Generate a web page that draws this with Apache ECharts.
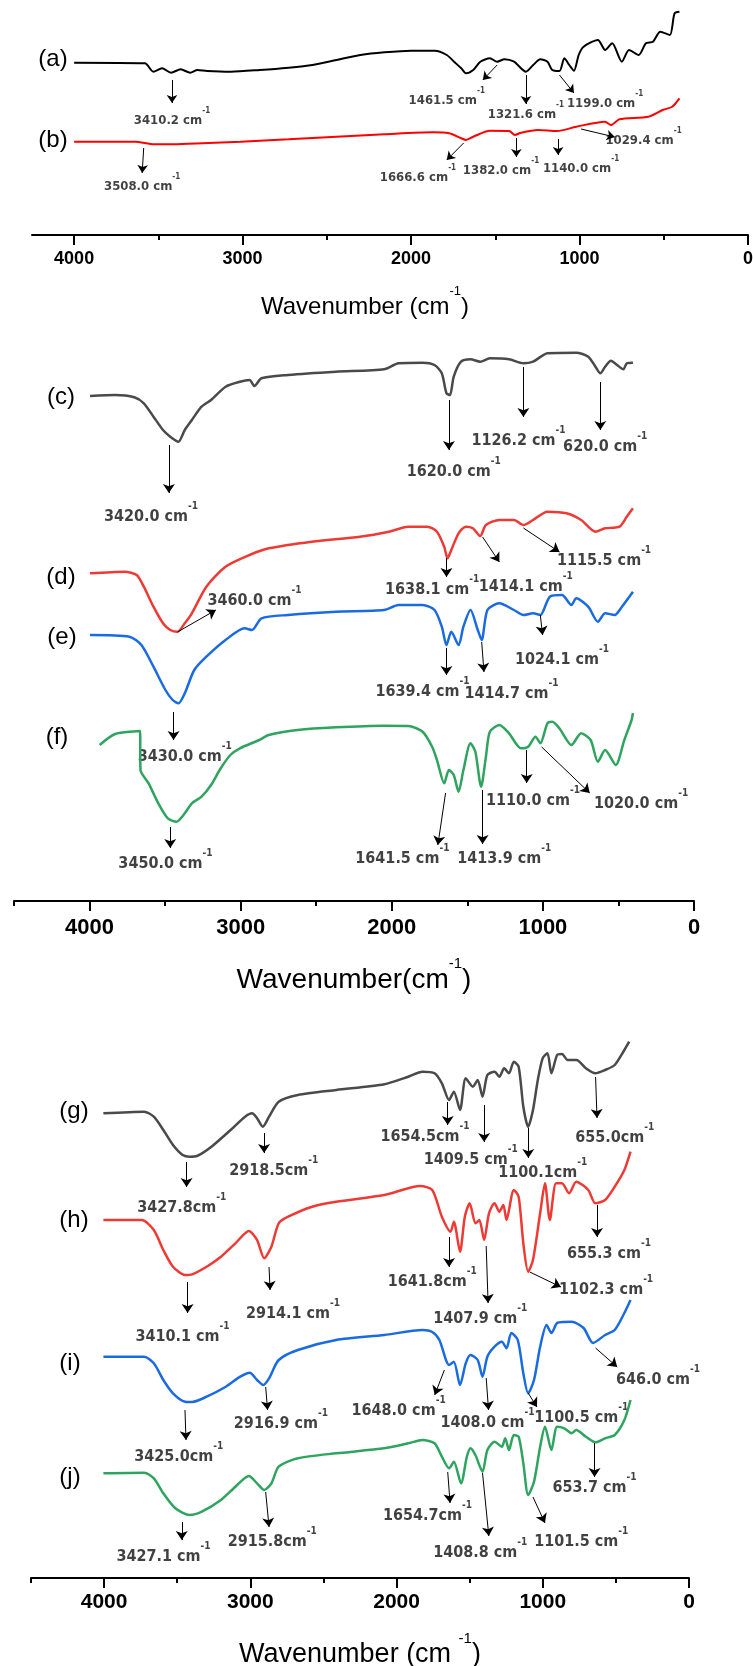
<!DOCTYPE html>
<html>
<head>
<meta charset="utf-8">
<script src="https://cdn.jsdelivr.net/npm/echarts@6/dist/echarts.min.js"></script>
<style>
html,body{margin:0;padding:0;background:#fff}
#main{width:753px;height:1666px}
</style>
</head>
<body>
<div id="main"></div>
<script>
// FTIR spectra, transmittance in arbitrary units (offset per trace)
// panel 1
const specA = [[4000,172.3],[3580,171.7],[3530,163.3],[3478,166.7],[3425,162.3],[3368,165.7],[3311,162.3],[3268,165],[3211,164],[3069,163.3],[2898,165],[2727,167.3],[2585,170],[2443,175],[2300,180],[2158,182.7],[2001,184.3],[1859,184.3],[1788,180],[1745,173.3],[1702,166.7],[1674,161.7],[1631,165],[1589,173.3],[1532,176.7],[1489,173.3],[1446,175.7],[1389,173.3],[1318,163.3],[1275,170],[1233,175.7],[1190,173.3],[1162,165],[1119,164],[1090,176.7],[1061,170],[1033,164.3],[1005,180],[976,188.3],[891,195],[848,185],[806,191.7],[749,173.3],[706,185],[649,180],[606,191.7],[564,193.3],[521,203.3],[464,200],[436,221.7],[407,223.3]];
const specB = [[4000,93.3],[3638,93.3],[3525,90.7],[3411,90.7],[3240,91.7],[3012,93.3],[2727,95.7],[2443,98.3],[2158,100.7],[1873,102.7],[1774,101.7],[1702,96.7],[1674,95],[1631,98.3],[1532,104.3],[1418,104],[1384,100],[1347,102.3],[1247,105],[1133,104],[1019,108.3],[848,113.3],[814,110],[763,115.7],[592,118.3],[507,125],[450,128.3],[407,136.7]];

// panel 2
const specC = [[3997,505],[3831,506],[3704,503.7],[3641,497.7],[3577,484.3],[3514,471],[3466,464.3],[3412,459.3],[3370,471],[3323,481],[3259,494.3],[3196,501],[3100,514.3],[3005,519.3],[2941,521],[2909,515],[2862,522.7],[2687,526],[2369,529.3],[2051,531.7],[1955,537.7],[1796,538.3],[1717,536],[1669,527.7],[1638,507.7],[1615,506],[1590,524.3],[1542,539.3],[1479,541.7],[1415,539.3],[1351,542.7],[1224,541.7],[1129,537.7],[1065,539.3],[970,547.7],[779,548.3],[700,544.3],[652,534.3],[620,527.7],[588,534.3],[550,540.3],[509,536],[467,531.7],[445,537.7],[404,538.3]];
const specD = [[3997,327.7],[3768,329.3],[3688,326],[3641,314.3],[3577,294.3],[3514,277.7],[3466,271],[3418,269.3],[3370,277.7],[3323,287.7],[3227,314.3],[3100,334.3],[2941,346],[2814,352.7],[2528,359.3],[2210,364.3],[2019,369.3],[1892,374.3],[1765,374.3],[1701,369.3],[1653,354.3],[1631,342.7],[1606,351],[1558,367.7],[1510,374.3],[1463,372.7],[1415,365],[1377,376],[1288,381],[1192,381],[1129,376],[1065,381],[970,389.3],[843,387.7],[747,381],[652,369.3],[588,372.7],[493,374.3],[445,384.3],[404,392.7]];
const specE = [[3997,266],[3736,264.3],[3657,256],[3577,234.3],[3498,211],[3450,201],[3412,197.7],[3370,207.7],[3307,231],[3227,244.3],[3100,261],[2973,272.7],[2925,271],[2862,282.7],[2687,286],[2369,289.3],[2051,291],[1955,296],[1796,296],[1717,291],[1669,274.3],[1638,256],[1606,269.3],[1558,256],[1526,274.3],[1479,291],[1431,271],[1405,261],[1367,291],[1288,297.7],[1192,291],[1129,286],[1065,287.7],[1017,286],[954,304.3],[874,306],[811,296],[779,302.7],[700,294.3],[636,279.3],[588,287.7],[525,286],[477,294.3],[404,309.3]];
const specF = [[3933,156],[3831,167],[3666,170],[3663,131],[3609,117.7],[3545,97.7],[3482,82.7],[3425,79.3],[3370,87.7],[3323,97.7],[3259,104.3],[3196,116],[3132,132.7],[3068,146],[3005,152.7],[2877,161],[2814,166],[2623,171],[2369,173.7],[2051,175.3],[1892,175],[1796,169.3],[1733,154.3],[1701,141],[1653,117.7],[1622,131],[1590,126],[1558,109.3],[1526,131],[1479,157.7],[1447,149.3],[1409,114.3],[1377,144.3],[1351,169.3],[1288,176],[1224,167.7],[1145,152.7],[1097,154.3],[1049,164.3],[1017,157.7],[970,177.7],[938,179.3],[891,172.7],[811,156],[747,167.7],[684,161],[636,139.3],[588,151],[518,136],[461,161],[413,181],[404,188]];

// panel 3
const specG = [[4005,464.7],[3726,466.3],[3660,461.3],[3595,448],[3529,433],[3463,423],[3414,421.3],[3365,422],[3266,431.3],[3135,448],[3036,461.3],[2987,464.7],[2954,459.7],[2915,451.3],[2872,461.3],[2806,476.3],[2675,483],[2412,488],[2084,493.7],[1920,501.3],[1822,506.3],[1740,504.7],[1690,494.7],[1641,478],[1608,486.3],[1566,468],[1527,499.7],[1478,491.3],[1445,498],[1412,481.3],[1379,503],[1330,506.3],[1297,501.3],[1264,509.7],[1231,504.7],[1198,516.3],[1165,511.3],[1133,471.3],[1100,451.3],[1067,468],[1034,498],[1001,519.7],[968,524.7],[941,504.7],[902,523],[869,524],[830,518],[770,518],[705,509.7],[640,504.7],[574,508],[508,513],[442,528],[409,536.3]];
const specH = [[4005,358],[3743,358],[3660,348],[3595,328],[3529,311.3],[3447,303],[3398,303.7],[3299,311.3],[3201,321.3],[3102,334.7],[3010,347],[2954,338],[2905,319.7],[2856,331.3],[2806,354.7],[2741,361.3],[2577,371.3],[2413,376.3],[2084,383],[1838,392],[1756,388],[1690,361.3],[1631,346.3],[1608,356.3],[1566,326.3],[1533,361.3],[1500,374.7],[1460,354.7],[1434,358],[1401,338],[1368,364.7],[1330,374.7],[1297,366.3],[1270,373],[1248,358],[1198,388],[1165,381.3],[1133,334.7],[1100,306.3],[1067,318],[1018,364.7],[985,394.7],[952,358],[909,394.7],[869,394.7],[820,384.7],[771,396.3],[689,388],[640,374.7],[574,378],[508,391.3],[442,408],[400,426.3]];
const specI = [[4005,221.3],[3726,221.3],[3660,214.7],[3595,198],[3529,184.7],[3447,176.3],[3398,176],[3299,181.3],[3168,191.3],[3069,201.3],[3004,205.3],[2954,198],[2911,193],[2872,199.7],[2806,218],[2675,228],[2413,238],[2084,243],[1822,248],[1756,246],[1707,238],[1641,213],[1608,216.3],[1566,193],[1527,214.7],[1494,223],[1445,218],[1412,201.3],[1379,221.3],[1330,231.3],[1280,236.3],[1248,229.7],[1215,245],[1171,238],[1133,204.7],[1100,184.7],[1060,198],[1018,231.3],[974,253],[941,245],[902,255],[853,256],[803,256.3],[721,250],[656,235],[574,243],[508,248],[442,265],[400,278]];
const specJ = [[4005,104.7],[3726,105.3],[3660,99.7],[3595,84.7],[3513,69.7],[3414,63],[3332,66.3],[3201,78],[3102,91.3],[3010,102],[2954,94.7],[2905,88],[2856,94.7],[2806,111.3],[2675,119.7],[2413,124.7],[2084,129.7],[1920,134.7],[1822,138],[1740,134.7],[1690,121.3],[1641,109.7],[1608,116.3],[1559,94.7],[1519,121.3],[1494,129.7],[1461,123],[1412,106.3],[1379,128],[1330,136.3],[1280,131.3],[1257,139.7],[1231,128],[1198,143],[1165,141.3],[1133,114.7],[1100,83],[1060,96.3],[1018,131.3],[985,151.3],[941,128],[902,151.3],[853,149.7],[803,144.7],[771,148],[705,141.3],[640,135.7],[574,139.7],[508,143],[442,158],[400,178]];

// peak notes: [text, arrow start, arrow end, text anchor]
const notesP1 = [
  ['3410.2 cm',[3419,155],[3419,132],[3419,118]],
  ['1461.5 cm',[1489,170],[1574,155],[1788,138]],
  ['1321.6 cm',[1318,160],[1318,131],[1318,124]],
  ['1199.0 cm',[1119,160],[1033,142],[848,135]],
  ['3508.0 cm',[3587,87],[3596,62],[3596,52]],
  ['1666.6 cm',[1688,92],[1788,75],[1959,61]],
  ['1382.0 cm',[1375,97],[1375,78],[1466,68]],
  ['1140.0 cm',[1127,96],[1127,80],[991,70]],
  ['1029.4 cm',[991,106],[791,98],[620,98]]
];
const notesP2 = [
  ['3420.0 cm',[3475,456],[3475,408],[3593,388]],
  ['1620.0 cm',[1622,501],[1622,451],[1590,433]],
  ['1126.2 cm',[1129,534],[1129,484],[1161,464]],
  ['620.0 cm',[620,519],[620,471],[588,458]],
  ['3460.0 cm',[3418,269],[3164,291],[2909,304]],
  ['1638.1 cm',[1638,343],[1638,324],[1733,315]],
  ['1414.1 cm',[1399,364],[1288,339],[1113,318]],
  ['1115.5 cm',[1129,373],[890,349],[595,344]],
  ['1639.4 cm',[1638,253],[1638,226],[1797,213]],
  ['1414.7 cm',[1405,259],[1390,229],[1208,211]],
  ['1024.1 cm',[1017,286],[1002,266],[874,245]],
  ['3430.0 cm',[3444,189],[3444,161],[3370,148]],
  ['3450.0 cm',[3466,74],[3466,53],[3498,41]],
  ['1641.5 cm',[1644,108],[1695,56],[1930,46]],
  ['1413.9 cm',[1399,111],[1399,57],[1256,46]],
  ['1110.0 cm',[1107,151],[1107,118],[1065,104]],
  ['1020.0 cm',[1008,154],[690,108],[350,101]]
];
const notesP3 = [
  ['3427.8cm',[3436,416],[3436,391],[3469,374]],
  ['2918.5cm',[2906,445],[2906,425],[2840,411]],
  ['1654.5cm',[1650,476],[1650,453],[1805,445]],
  ['1409.5 cm',[1401,473],[1401,436],[1493,422]],
  ['1100.1cm',[1099,450],[1099,420],[1000,409]],
  ['655.0cm',[639,501],[629,460],[508,444]],
  ['3410.1 cm',[3429,296],[3429,265],[3464,245]],
  ['2914.1 cm',[2872,311],[2865,288],[2708,268]],
  ['1641.8cm',[1641,341],[1641,311],[1756,300]],
  ['1407.9 cm',[1387,332],[1374,275],[1428,263]],
  ['1102.3 cm',[1089,306],[876,291],[567,292]],
  ['655.3 cm',[629,373],[629,341],[547,328]],
  ['646.0 cm',[639,230],[491,211],[212,202]],
  ['1648.0 cm',[1673,208],[1739,183],[1986,171]],
  ['1408.0 cm',[1387,200],[1371,168],[1378,159]],
  ['1100.5 cm',[1100,185],[1040,171],[737,164]],
  ['2916.9 cm',[2895,191],[2882,168],[2791,158]],
  ['3425.0cm',[3447,168],[3440,138],[3490,125]],
  ['3427.1 cm',[3469,56],[3469,38],[3594,25]],
  ['2915.8cm',[2895,86],[2872,51],[2850,40]],
  ['1654.7cm',[1650,106],[1634,75],[1788,66]],
  ['1408.8 cm',[1412,105],[1369,42],[1428,29]],
  ['1101.5 cm',[1067,81],[985,55],[737,40]],
  ['653.7 cm',[646,135],[646,101],[646,94]]
];

const majorTicks = [0, 1000, 2000, 3000, 4000];
const NARROW = '"Liberation Sans Narrow","Arial Narrow","DejaVu Sans Condensed",sans-serif';
const ARIAL = '"Liberation Sans",Arial,sans-serif';

const chart = echarts.init(document.getElementById('main'));

// each panel: grid box, axis range and text sizes
const panels = [
  {top: 0, height: 235, left: 32, right: 5, max: 4250, minor: [500,1500,2500,3500],
   tickFs: 18, tickMargin: 15, name: '{a|Wavenumber (cm}{s|-1}{a|)}', nameFs: 24, nameGap: 50, namePad: [0,50,0,0], noteFs: 13},
  {top: 300, height: 601, left: 14, right: 59, max: 4500, minor: [500,1500,2500,3500,4500],
   tickFs: 22, tickMargin: 16, name: '{a|Wavenumber(cm}{s|-1}{a|)}', nameFs: 28, nameGap: 55, namePad: [0,0,0,0], noteFs: 16},
  {top: 1000, height: 578, left: 31, right: 64, max: 4500, minor: [500,1500,2500,3500,4500],
   tickFs: 21, tickMargin: 14, name: '{a|Wavenumber (cm }{s|-1}{a|)}', nameFs: 27, nameGap: 53, namePad: [0,0,0,0], noteFs: 16}
];

const grids = [], xAxes = [], yAxes = [];
panels.forEach((p, i) => {
  grids.push({left: p.left, right: p.right, top: p.top, height: p.height, containLabel: false, outerBoundsMode: 'none'});
  xAxes.push({
    gridIndex: i, type: 'value', inverse: true, min: 0, max: p.max, interval: 1000, position: 'bottom',
    axisLine: {show: true, onZero: false, lineStyle: {color: '#000', width: 2}},
    axisTick: {show: true, length: 10, customValues: majorTicks, lineStyle: {color: '#000', width: 2}},
    splitLine: {show: false},
    axisLabel: {customValues: majorTicks, formatter: v => String(v),
      fontFamily: ARIAL, fontWeight: 'bold', fontSize: p.tickFs, color: '#000', margin: p.tickMargin},
    name: p.name, nameLocation: 'middle', nameGap: p.nameGap,
    nameTextStyle: {padding: p.namePad, rich: {
      a: {fontFamily: ARIAL, fontSize: p.nameFs, color: '#000', lineHeight: p.nameFs + 10, verticalAlign: 'bottom'},
      s: {fontFamily: ARIAL, fontSize: Math.round(p.nameFs * 0.55), color: '#000', lineHeight: Math.round(p.nameFs * 0.55), verticalAlign: 'top'}
    }}
  });
  // short ticks at the half thousands
  xAxes.push({
    gridIndex: i, type: 'value', inverse: true, min: 0, max: p.max, position: 'bottom',
    axisLine: {show: false},
    axisTick: {show: true, length: 5, customValues: p.minor, lineStyle: {color: '#000', width: 2}},
    axisLabel: {show: false}, splitLine: {show: false}
  });
  yAxes.push({gridIndex: i, type: 'value', min: 0, max: p.height, show: false});
});

function spectrum(data, color, width, panel) {
  return {
    type: 'line', xAxisIndex: panel * 2, yAxisIndex: panel, data: data,
    symbol: 'none', smooth: 0.25, lineStyle: {color: color, width: width}, silent: true
  };
}

function notes(list, panel, fs) {
  return {
    type: 'scatter', xAxisIndex: panel * 2, yAxisIndex: panel, symbolSize: 1, silent: true,
    itemStyle: {color: 'rgba(0,0,0,0)'},
    data: list.map(n => ({name: n[0], value: n[3]})),
    label: {
      show: true, position: 'inside',
      formatter: p => '{n|' + p.name + '}{s|-1}',
      rich: {
        n: {fontFamily: NARROW, fontWeight: 'bold', fontSize: fs, color: '#111', lineHeight: fs + 8, verticalAlign: 'bottom'},
        s: {fontFamily: NARROW, fontWeight: 'bold', fontSize: Math.round(fs * 0.6), color: '#111', lineHeight: Math.round(fs * 0.6), verticalAlign: 'top'}
      }
    },
    markLine: {
      silent: true, symbol: ['none', 'arrow'], symbolSize: fs > 14 ? 9 : 8,
      lineStyle: {color: '#000', width: 1, type: 'solid'},
      label: {show: false},
      data: list.map(n => [{coord: n[1]}, {coord: n[2]}])
    }
  };
}

const tags = [
  ['(a)', 53, 59], ['(b)', 53, 140],
  ['(c)', 61, 397], ['(d)', 61, 577], ['(e)', 62, 637], ['(f)', 57, 737],
  ['(g)', 74, 1111], ['(h)', 74, 1220], ['(i)', 70, 1363], ['(j)', 70, 1477]
];

chart.setOption({
  animation: false,
  backgroundColor: '#fff',
  grid: grids,
  xAxis: xAxes,
  yAxis: yAxes,
  graphic: tags.map(t => ({
    type: 'text', x: t[1], y: t[2], silent: true,
    style: {text: t[0], fill: '#000', font: '24px "Liberation Sans", Arial, sans-serif', textAlign: 'center', textVerticalAlign: 'middle'}
  })),
  series: [
    spectrum(specA, '#000000', 2, 0),
    spectrum(specB, '#ff0000', 2, 0),
    spectrum(specC, '#4a4a4a', 2.5, 1),
    spectrum(specD, '#ee3a34', 2.5, 1),
    spectrum(specE, '#1b6be0', 2.5, 1),
    spectrum(specF, '#2ea45e', 2.5, 1),
    spectrum(specG, '#4a4a4a', 2.5, 2),
    spectrum(specH, '#ee3a34', 2.5, 2),
    spectrum(specI, '#1b6be0', 2.5, 2),
    spectrum(specJ, '#2ea45e', 2.5, 2),
    notes(notesP1, 0, 13),
    notes(notesP2, 1, 16),
    notes(notesP3, 2, 16)
  ]
});

window.addEventListener('resize', function () {
  chart.resize();
});
</script>
</body>
</html>
